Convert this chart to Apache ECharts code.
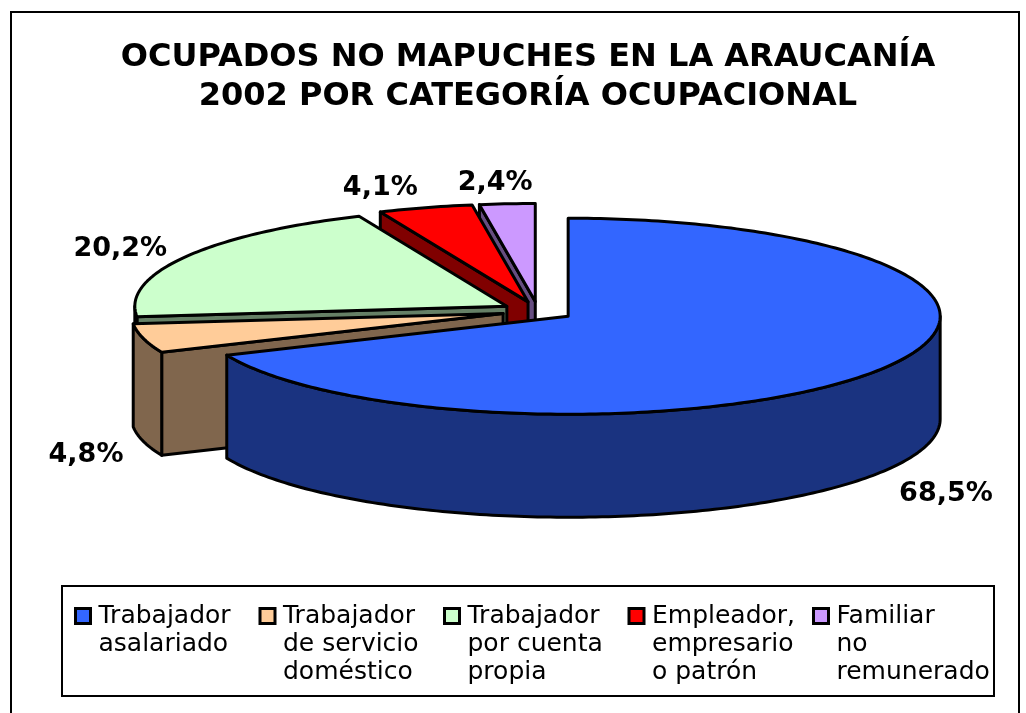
<!DOCTYPE html>
<html>
<head>
<meta charset="utf-8">
<script src="https://cdn.jsdelivr.net/npm/echarts@6/dist/echarts.min.js"></script>
<style>
  html, body { margin: 0; padding: 0; background: #fff; }
  #main { width: 1026px; height: 713px; }
</style>
</head>
<body>
<div id="main"></div>
<script>
// datos del gráfico
var categorias = ['Trabajador asalariado', 'Trabajador de servicio doméstico', 'Trabajador por cuenta propia', 'Empleador, empresario o patrón', 'Familiar no remunerado'];
var etiquetasLeyenda = ['Trabajador\nasalariado', 'Trabajador\nde servicio\ndoméstico', 'Trabajador\npor cuenta\npropia', 'Empleador,\nempresario\no patrón', 'Familiar\nno\nremunerado'];
var porcentajes = [68.5, 4.8, 20.2, 4.1, 2.4];
var colores = ['#3366FF', '#FFCC99', '#CCFFCC', '#FF0000', '#CC99FF'];

// geometría del pastel 3D
var CX = 538, CY = 311, RX = 372, RY = 98, DEPTH = 103, EXPLODE = 0.097;

function oscurecer(hex) {
    var n = parseInt(hex.slice(1), 16);
    var r = (n >> 16) & 255, g = (n >> 8) & 255, b = n & 255;
    return 'rgb(' + Math.round(r / 2) + ',' + Math.round(g / 2) + ',' + Math.round(b / 2) + ')';
}

function punto(tip, t, dy) {
    return [tip[0] + RX * Math.sin(t), tip[1] - RY * Math.cos(t) + (dy || 0)];
}

function arco(tip, t0, t1, dy) {
    var pts = [];
    var n = Math.max(2, Math.ceil(Math.abs(t1 - t0) / (Math.PI / 180)));
    for (var i = 0; i <= n; i++) {
        pts.push(punto(tip, t0 + (t1 - t0) * i / n, dy));
    }
    return pts;
}

var total = porcentajes.reduce(function (s, v) { return s + v; }, 0);
var acumulado = 0;
var rebanadas = [];
for (var i = 0; i < porcentajes.length; i++) {
    var ini = acumulado / total;
    acumulado += porcentajes[i];
    rebanadas.push([ini, acumulado / total, porcentajes[i]]);
}

var borde = { stroke: '#000', lineWidth: 3, lineJoin: 'round' };

function renderItem(params, api) {
    var a = api.value(0) * Math.PI * 2;
    var b = api.value(1) * Math.PI * 2;
    var pct = api.value(2);
    var mid = (a + b) / 2;
    var tip = [CX + EXPLODE * RX * Math.sin(mid), CY - EXPLODE * RY * Math.cos(mid)];
    var color = colores[params.seriesIndex];
    var oscuro = oscurecer(color);
    var hijos = [];

    function cara(t) {
        var p = punto(tip, t);
        return {
            type: 'polygon',
            shape: { points: [tip, p, [p[0], p[1] + DEPTH], [tip[0], tip[1] + DEPTH]] },
            style: Object.assign({ fill: oscuro }, borde)
        };
    }
    // caras laterales visibles
    if (Math.sin(a) < -1e-6) hijos.push(cara(a));
    if (Math.sin(b) > 1e-6) hijos.push(cara(b));
    // pared exterior (parte frontal)
    var w0 = Math.max(a, Math.PI / 2), w1 = Math.min(b, Math.PI * 3 / 2);
    if (w1 > w0) {
        var pts = arco(tip, w0, w1, 0).concat(arco(tip, w1, w0, DEPTH));
        hijos.push({ type: 'polygon', shape: { points: pts }, style: Object.assign({ fill: oscuro }, borde) });
    }
    // cara superior
    hijos.push({
        type: 'polygon',
        shape: { points: [tip].concat(arco(tip, a, b, 0)) },
        style: Object.assign({ fill: color }, borde)
    });
    // etiqueta
    var s = Math.sin(mid), c = -Math.cos(mid);
    var ajuste = 0;
    if (s < -0.5) ajuste = c > 0 ? 20 : 4;
    else if (c < -0.9) ajuste = s < -0.2 ? -23 : -6;
    hijos.push({
        type: 'text',
        style: {
            text: pct.toFixed(1).replace('.', ',') + '%',
            x: tip[0] + (RX + 80) * s + ajuste,
            y: tip[1] + (RY + 26) * c + (c > 0 ? DEPTH + 2 : 0) + 5,
            align: 'center',
            verticalAlign: 'middle',
            fontFamily: 'DejaVu Sans',
            fontWeight: 'bold',
            fontSize: 27,
            fill: '#000'
        }
    });
    return { type: 'group', children: hijos };
}

// orden de dibujo: de atrás hacia adelante
var profundidad = rebanadas.map(function (r, i) {
    return { i: i, d: -Math.cos((r[0] + r[1]) * Math.PI) };
}).sort(function (x, y) { return x.d - y.d; });
var orden = [];
profundidad.forEach(function (p, k) { orden[p.i] = k; });

var series = categorias.map(function (nombre, i) {
    return {
        type: 'custom',
        name: nombre,
        coordinateSystem: 'none',
        z: 2 + orden[i],
        itemStyle: { color: colores[i] },
        renderItem: renderItem,
        data: [rebanadas[i]]
    };
});

var myChart = echarts.init(document.getElementById('main'));
var option = {
    animation: false,
    backgroundColor: '#fff',
    title: {
        text: 'OCUPADOS NO MAPUCHES EN LA ARAUCANÍA\n2002 POR CATEGORÍA OCUPACIONAL',
        left: 523,
        top: 33,
        textAlign: 'center',
        textStyle: {
            fontFamily: 'DejaVu Sans',
            fontWeight: 'bold',
            fontSize: 32,
            lineHeight: 39,
            color: '#000'
        }
    },
    legend: {
        data: categorias,
        left: 74,
        top: 546,
        padding: 0,
        itemGap: 0,
        itemWidth: 15,
        itemHeight: 15,
        icon: 'rect',
        itemStyle: { borderColor: '#000', borderWidth: 3 },
        formatter: function (name) {
            // dos líneas vacías arriba para que la primera línea quede a la altura del icono
            var t = etiquetasLeyenda[categorias.indexOf(name)].split('\n');
            while (t.length < 3) t.push('\u00a0');
            return '\u00a0\n\u00a0\n' + t.join('\n');
        },
        textStyle: {
            fontFamily: 'DejaVu Sans',
            fontSize: 25,
            lineHeight: 28,
            color: '#000',
            width: 160,
            padding: [0, 0, 0, 3]
        }
    },
    graphic: [
        { type: 'rect', shape: { x: 11, y: 12, width: 1008, height: 720 }, style: { fill: 'none', stroke: '#000', lineWidth: 2 } },
        { type: 'rect', shape: { x: 62, y: 586, width: 932, height: 110 }, style: { fill: 'none', stroke: '#000', lineWidth: 2 } }
    ],
    series: series
};
myChart.setOption(option);
window.addEventListener('resize', function () { myChart.resize(); });
</script>
</body>
</html>
